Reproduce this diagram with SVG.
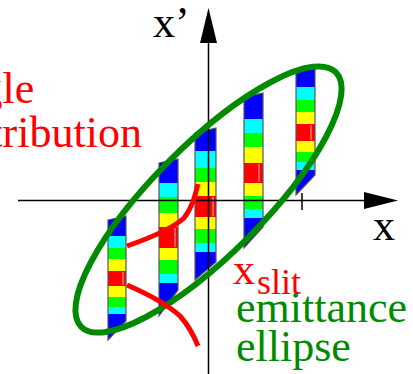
<svg xmlns="http://www.w3.org/2000/svg" width="413" height="374" viewBox="0 0 413 374">
<style>
.t{font-family:"Liberation Serif","Times New Roman",serif;font-size:44px}
.red{fill:#ff0000}
.grn{fill:#008a00}
.blk{fill:#000}
.b{fill:#0000ff}.c{fill:#00ffff}.g{fill:#00ff00}.y{fill:#ffff00}.r{fill:#ff0000}
.outline{fill:none;stroke:#555;stroke-width:1.2}
.axis{stroke:#000;stroke-width:1.5;fill:none}
.curve{fill:none;stroke:#ff0000;stroke-width:5}
.hl{stroke:#ffb0b0;stroke-width:1}
</style>
<defs>
<clipPath id="c1"><polygon points="108,220 126,216 126,321 108,340"/></clipPath>
<clipPath id="c2"><polygon points="159,163 178,159 178,290 159,316"/></clipPath>
<clipPath id="c3"><polygon points="195,133 216,128 216,262 195,280"/></clipPath>
<clipPath id="c4"><polygon points="244,97 263,93 263,227 244,248"/></clipPath>
<clipPath id="c5"><polygon points="296,69 315,66 315,175 296,195"/></clipPath>
</defs>

<g id="bar1">
<g clip-path="url(#c1)">
<rect class="b" x="108" y="210" width="18" height="26"/>
<rect class="c" x="108" y="236" width="18" height="12"/>
<rect class="g" x="108" y="248" width="18" height="11"/>
<rect class="y" x="108" y="259" width="18" height="12"/>
<rect class="r" x="108" y="271" width="18" height="15"/>
<rect class="y" x="108" y="286" width="18" height="11"/>
<rect class="g" x="108" y="297" width="18" height="10"/>
<rect class="c" x="108" y="307" width="18" height="7"/>
<rect class="b" x="108" y="314" width="18" height="30"/>
<line class="hl" x1="123" y1="272" x2="123" y2="285"/>
</g>
<polygon class="outline" points="108,220 126,216 126,321 108,340"/>
</g>

<g id="bar2">
<g clip-path="url(#c2)">
<rect class="b" x="159" y="155" width="19" height="28"/>
<rect class="c" x="159" y="183" width="19" height="14"/>
<rect class="g" x="159" y="197" width="19" height="16"/>
<rect class="y" x="159" y="213" width="19" height="14"/>
<rect class="r" x="159" y="227" width="19" height="21"/>
<rect class="y" x="159" y="248" width="19" height="12"/>
<rect class="g" x="159" y="260" width="19" height="14"/>
<rect class="c" x="159" y="274" width="19" height="9"/>
<rect class="b" x="159" y="283" width="19" height="36"/>
<line class="hl" x1="175" y1="228" x2="175" y2="247"/>
</g>
<polygon class="outline" points="159,163 178,159 178,290 159,316"/>
</g>

<g id="bar3">
<g clip-path="url(#c3)">
<rect class="b" x="195" y="125" width="21" height="26"/>
<rect class="c" x="195" y="151" width="21" height="17"/>
<rect class="g" x="195" y="168" width="21" height="14"/>
<rect class="y" x="195" y="182" width="21" height="14"/>
<rect class="r" x="195" y="196" width="21" height="21"/>
<rect class="y" x="195" y="217" width="21" height="12"/>
<rect class="g" x="195" y="229" width="21" height="14"/>
<rect class="c" x="195" y="243" width="21" height="9"/>
<rect class="b" x="195" y="252" width="21" height="30"/>
<line class="hl" x1="213" y1="197" x2="213" y2="216"/>
</g>
<polygon class="outline" points="195,133 216,128 216,262 195,280"/>
</g>

<g id="bar4">
<g clip-path="url(#c4)">
<rect class="b" x="244" y="90" width="19" height="29"/>
<rect class="c" x="244" y="119" width="19" height="14"/>
<rect class="g" x="244" y="133" width="19" height="14"/>
<rect class="y" x="244" y="147" width="19" height="16"/>
<rect class="r" x="244" y="163" width="19" height="20"/>
<rect class="y" x="244" y="183" width="19" height="13"/>
<rect class="g" x="244" y="196" width="19" height="13"/>
<rect class="c" x="244" y="209" width="19" height="9"/>
<rect class="b" x="244" y="218" width="19" height="32"/>
<line class="hl" x1="259" y1="164" x2="259" y2="182"/>
</g>
<polygon class="outline" points="244,97 263,93 263,227 244,248"/>
</g>

<g id="bar5">
<g clip-path="url(#c5)">
<rect class="b" x="296" y="62" width="19" height="25"/>
<rect class="c" x="296" y="87" width="19" height="13"/>
<rect class="g" x="296" y="100" width="19" height="12"/>
<rect class="y" x="296" y="112" width="19" height="12"/>
<rect class="r" x="296" y="124" width="19" height="17"/>
<rect class="y" x="296" y="141" width="19" height="11"/>
<rect class="g" x="296" y="152" width="19" height="10"/>
<rect class="c" x="296" y="162" width="19" height="8"/>
<rect class="b" x="296" y="170" width="19" height="28"/>
<line class="hl" x1="311" y1="125" x2="311" y2="140"/>
</g>
<polygon class="outline" points="296,69 315,66 315,175 296,195"/>
</g>

<g id="axes">
<line class="axis" x1="208.5" y1="40" x2="208.5" y2="374"/>
<polygon class="blk" points="208.5,8 200,43 217,43"/>
<line class="axis" x1="18" y1="200.5" x2="366" y2="200.5"/>
<polygon class="blk" points="398,200.5 364,192 364,209"/>
<line class="axis" x1="302" y1="193" x2="302" y2="210"/>
</g>

<g id="ellipse">
<ellipse cx="208.5" cy="199.5" rx="180" ry="55" transform="rotate(-45 208.5 199.5)" fill="none" stroke="#008a00" stroke-width="6"/>
</g>

<g id="connectors">
<path class="curve" d="M127,246 C150,238 172,229 184,218 C192,208 195,196 198,184"/>
<path class="curve" d="M127,285 C150,295 168,305 180,316 C189,326 194,336 198,346"/>
</g>

<g id="labels">
<text class="t blk" x="153" y="37">x’</text>
<text class="t blk" x="373" y="240">x</text>
<text class="t red" x="-61" y="103">angle</text>
<text class="t red" x="-61" y="147">distribution</text>
<text class="t red" x="233" y="284">x<tspan font-size="36" x="257" y="294">slit</tspan></text>
<text class="t grn" x="236" y="322">emittance</text>
<text class="t grn" x="236" y="361">ellipse</text>
</g>
</svg>
